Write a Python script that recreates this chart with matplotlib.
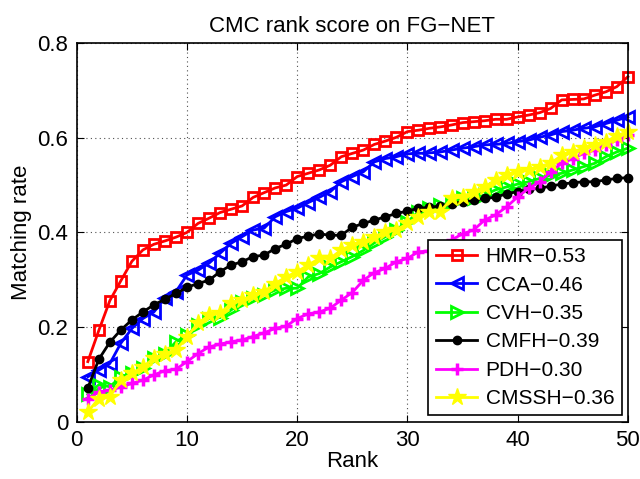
import numpy as np
import matplotlib
matplotlib.use('Agg')
import matplotlib.pyplot as plt

plt.rcParams['font.family'] = ['Liberation Sans', 'DejaVu Sans']

rank = np.arange(1, 51)

hmr = [0.127, 0.193, 0.256, 0.298, 0.339, 0.363, 0.375, 0.382, 0.390, 0.400,
       0.419, 0.430, 0.442, 0.449, 0.456, 0.474, 0.484, 0.494, 0.500, 0.518,
       0.525, 0.532, 0.542, 0.560, 0.567, 0.574, 0.586, 0.593, 0.601, 0.613,
       0.616, 0.620, 0.623, 0.627, 0.632, 0.634, 0.636, 0.639, 0.639, 0.644,
       0.648, 0.653, 0.662, 0.680, 0.681, 0.682, 0.690, 0.697, 0.708, 0.729]
cca = [0.095, 0.109, 0.123, 0.166, 0.197, 0.218, 0.232, 0.261, 0.275, 0.310,
       0.320, 0.335, 0.356, 0.377, 0.391, 0.405, 0.409, 0.433, 0.444, 0.451,
       0.463, 0.474, 0.486, 0.507, 0.518, 0.528, 0.549, 0.556, 0.560, 0.566,
       0.567, 0.568, 0.570, 0.574, 0.578, 0.581, 0.585, 0.586, 0.588, 0.592,
       0.595, 0.601, 0.606, 0.613, 0.616, 0.620, 0.623, 0.630, 0.637, 0.644]
cvh = [0.058, 0.078, 0.074, 0.095, 0.102, 0.113, 0.134, 0.144, 0.169, 0.183,
       0.204, 0.218, 0.220, 0.236, 0.253, 0.261, 0.268, 0.278, 0.282, 0.282,
       0.306, 0.313, 0.327, 0.338, 0.349, 0.362, 0.378, 0.391, 0.406, 0.422,
       0.444, 0.451, 0.458, 0.463, 0.472, 0.472, 0.479, 0.490, 0.496, 0.502,
       0.507, 0.514, 0.521, 0.525, 0.532, 0.539, 0.546, 0.560, 0.570, 0.578]
cmfh = [0.071, 0.132, 0.168, 0.194, 0.215, 0.232, 0.247, 0.259, 0.271, 0.284,
        0.292, 0.299, 0.317, 0.331, 0.338, 0.349, 0.352, 0.366, 0.375, 0.387,
        0.392, 0.397, 0.394, 0.394, 0.411, 0.419, 0.426, 0.433, 0.440, 0.445,
        0.451, 0.453, 0.456, 0.460, 0.465, 0.468, 0.472, 0.474, 0.482, 0.486,
        0.491, 0.493, 0.498, 0.502, 0.505, 0.507, 0.507, 0.511, 0.514, 0.516]
pdh = [0.049, 0.063, 0.067, 0.073, 0.081, 0.088, 0.099, 0.108, 0.111, 0.127,
       0.144, 0.158, 0.164, 0.169, 0.173, 0.180, 0.188, 0.197, 0.202, 0.218,
       0.228, 0.232, 0.240, 0.257, 0.273, 0.299, 0.315, 0.324, 0.338, 0.345,
       0.359, 0.361, 0.370, 0.384, 0.397, 0.405, 0.426, 0.437, 0.454, 0.475,
       0.493, 0.507, 0.528, 0.546, 0.556, 0.567, 0.574, 0.585, 0.595, 0.606]
cmssh = [0.021, 0.049, 0.053, 0.088, 0.102, 0.116, 0.134, 0.144, 0.151, 0.180,
         0.208, 0.225, 0.229, 0.250, 0.257, 0.268, 0.275, 0.292, 0.306, 0.317,
         0.331, 0.345, 0.345, 0.363, 0.373, 0.380, 0.391, 0.401, 0.405, 0.419,
         0.433, 0.444, 0.444, 0.472, 0.475, 0.486, 0.496, 0.511, 0.521, 0.528,
         0.532, 0.539, 0.546, 0.563, 0.570, 0.578, 0.585, 0.592, 0.604, 0.613]

labels = ['HMR\u22120.53', 'CCA\u22120.46', 'CVH\u22120.35',
          'CMFH\u22120.39', 'PDH\u22120.30', 'CMSSH\u22120.36']

fig = plt.figure(figsize=(6.4, 4.79), dpi=100)
ax = fig.add_axes([0.12, 0.1196, 0.861, 0.7904])

lw = 2
ax.plot(rank, hmr, '-s', color=[1, 0, 0], lw=lw, markersize=7, markerfacecolor='none',
        markeredgewidth=2, label=labels[0], clip_on=False)
ax.plot(rank, cca, '-<', color=[0, 0, 1], lw=lw, markersize=9, markerfacecolor='none',
        markeredgewidth=2, label=labels[1], clip_on=False)
ax.plot(rank, cvh, '->', color=[0, 1, 0], lw=lw, markersize=9, markerfacecolor='none',
        markeredgewidth=2, label=labels[2], clip_on=False)
ax.plot(rank, cmfh, '-o', color=[0, 0, 0], lw=lw, markersize=6,
        label=labels[3], clip_on=False)
ax.plot(rank, pdh, '-+', color=[1, 0, 1], lw=lw, markersize=8, markeredgewidth=2.5,
        label=labels[4], clip_on=False)
ax.plot(rank, cmssh, '-*', color=[1, 1, 0], lw=lw, markersize=13,
        label=labels[5], clip_on=False)

ax.set_xlim(0, 50)
ax.set_ylim(0, 0.8)
ax.set_xticks([0, 10, 20, 30, 40, 50])
ax.set_yticks([0, 0.2, 0.4, 0.6, 0.8])
ax.set_yticklabels(['0', '0.2', '0.4', '0.6', '0.8'])
ax.grid(True, linestyle=(0, (1, 3)), color='#505050', linewidth=0.8)
ax.tick_params(direction='in', top=True, right=True, labelsize=16, length=5, pad=6)
for s in ax.spines.values():
    s.set_linewidth(1.2)

ax.set_xlabel('Rank', fontsize=16, labelpad=0)
ax.set_ylabel('Matching rate', fontsize=16, labelpad=4)
ax.set_title('CMC rank score on FG\u2212NET', fontsize=16, pad=8)

leg = ax.legend(loc='lower right', fontsize=15, fancybox=False, framealpha=1,
                edgecolor='black', borderaxespad=0.3, handlelength=2.0,
                handletextpad=0.4, labelspacing=0.45, borderpad=0.35)
leg.get_frame().set_linewidth(1.2)

fig.savefig('out.png', dpi=100)
